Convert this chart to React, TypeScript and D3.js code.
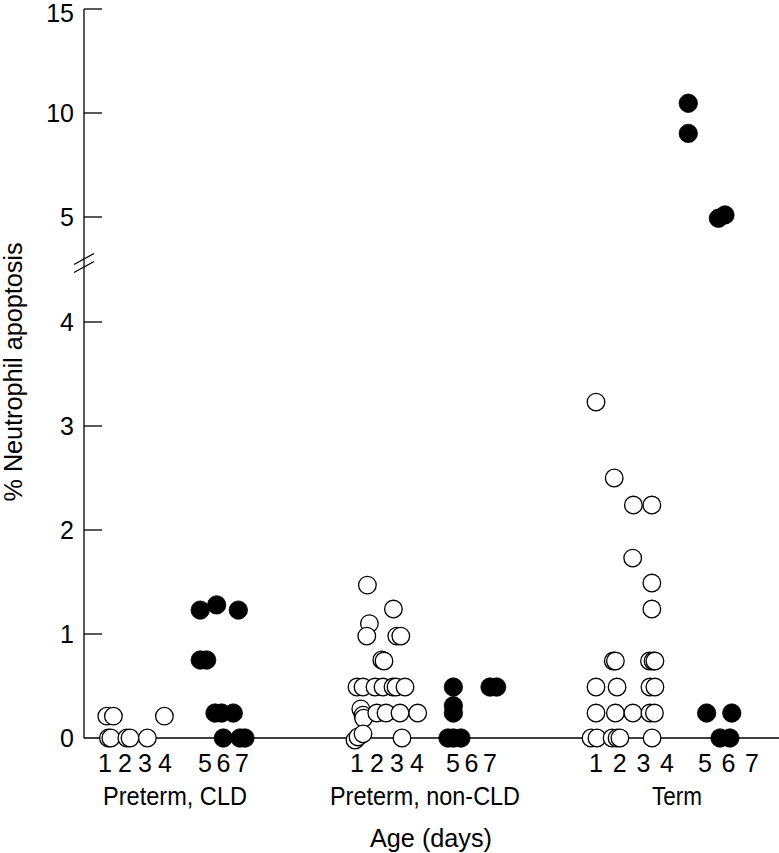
import React from "react";
import * as d3 from "d3";

const W = 779;
const H = 853;

const groupNames = ["Preterm, CLD", "Preterm, non-CLD", "Term"];
const dayLabels = [1, 2, 3, 4, 5, 6, 7];
const lowerTicks = [0, 1, 2, 3, 4];
const upperTicks = [5, 10, 15];
const yAxisTitle = "% Neutrophil apoptosis";
const xAxisTitle = "Age (days)";

// [day position, % apoptosis]
const cldOpen: [number, number][] = [
  [1.17, 0], [1.29, 0], [2.09, 0], [2.25, 0], [3.12, 0],
  [1.09, 0.21], [1.42, 0.21], [3.97, 0.21],
];
const cldFilled: [number, number][] = [
  [4.88, 1.23], [6.8, 1.23], [5.63, 1.28],
  [4.88, 0.75], [5.09, 0.75],
  [5.54, 0.24], [5.9, 0.24], [6.53, 0.24],
  [5.99, 0], [6.89, 0], [7.16, 0],
];
const nonCldOpen: [number, number][] = [
  [1.52, 1.47], [2.82, 1.24], [1.62, 1.1], [1.49, 0.98], [2.99, 0.98], [3.19, 0.98],
  [2.24, 0.75], [2.35, 0.74],
  [1.0, 0.49], [1.3, 0.49], [1.9, 0.49], [2.3, 0.49], [2.8, 0.49], [2.95, 0.49], [3.4, 0.49],
  [1.19, 0.28], [1.3, 0.22], [1.33, 0.19],
  [1.99, 0.24], [2.45, 0.24], [3.15, 0.24], [4.02, 0.24],
  [0.9, -0.02], [1.05, 0.01], [1.3, 0.04], [3.25, 0],
];
const nonCldFilled: [number, number][] = [
  [5.02, 0.49], [5.02, 0.31], [5.02, 0.24],
  [4.86, 0], [5.03, 0], [5.43, 0],
  [7.0, 0.49], [7.36, 0.49],
];
const termOpen: [number, number][] = [
  [1.0, 3.23], [1.77, 2.5], [2.58, 2.24], [3.36, 2.24], [2.55, 1.73],
  [3.36, 1.49], [3.36, 1.24],
  [1.73, 0.74], [1.82, 0.74], [3.26, 0.74], [3.41, 0.74], [3.49, 0.74],
  [1.0, 0.49], [1.89, 0.49], [3.28, 0.49], [3.49, 0.49],
  [1.0, 0.24], [1.82, 0.24], [2.56, 0.24], [3.28, 0.24], [3.47, 0.24],
  [0.79, 0], [1.04, 0], [1.68, 0], [1.89, 0], [2.01, 0], [3.37, 0],
];
const termFilled: [number, number][] = [
  [4.56, 10.47], [4.56, 9.02], [5.57, 4.94], [5.85, 5.1],
  [5.07, 0.24], [6.14, 0.24], [5.64, 0], [6.06, 0],
];

const openSets = [cldOpen, nonCldOpen, termOpen];
const filledSets = [cldFilled, nonCldFilled, termFilled];

// layout
const axisX = 84;
const groupRanges = [
  [105, 165, 205, 242],
  [357, 417, 453, 490],
  [596, 667, 705, 752],
];
const groupCenters = [175, 425, 677];
const groupWidths = [144, 190, 50];
const xScales = groupRanges.map((r) =>
  d3.scaleLinear().domain([1, 4, 5, 7]).range(r)
);
const yLow = d3.scaleLinear().domain([0, 4]).range([738, 322]);
const yHigh = d3.scaleLinear().domain([5, 15]).range([217, 9]);
const yPos = (v: number) => (v <= 4.5 ? yLow(v) : yHigh(v));

const FONT = "'Liberation Sans', Arial, sans-serif";
const R = 8.8;
const FS = 25;

export default function App() {
  const breakY = [259, 267];
  return (
    <svg
      width={W}
      height={H}
      style={{ position: "absolute", left: 0, top: 0, background: "#fff" }}
      fontFamily={FONT}
    >
      <rect x={0} y={0} width={W} height={H} fill="#fff" />
      {/* y axis */}
      <line x1={axisX} x2={axisX} y1={yHigh(15)} y2={yLow(0)} stroke="#000" strokeWidth={1.3} />
      {lowerTicks.filter((t) => t > 0).map((t) => (
        <line key={"lt" + t} x1={axisX} x2={axisX + 18} y1={yLow(t)} y2={yLow(t)} stroke="#000" strokeWidth={1.3} />
      ))}
      {upperTicks.map((t) => (
        <line key={"ut" + t} x1={axisX} x2={axisX + 18} y1={yHigh(t)} y2={yHigh(t)} stroke="#000" strokeWidth={1.3} />
      ))}
      {lowerTicks.map((t) => (
        <text key={"ll" + t} x={axisX - 10} y={yLow(t)} dy="0.36em" textAnchor="end" fontSize={FS}>
          {t}
        </text>
      ))}
      {upperTicks.map((t) => (
        <text key={"ul" + t} x={axisX - 10} y={yHigh(t)} dy={t === 15 ? "0.5em" : "0.36em"} textAnchor="end" fontSize={FS}>
          {t}
        </text>
      ))}
      {/* axis break */}
      {breakY.map((by, i) => (
        <line key={"b" + i} x1={axisX - 10} x2={axisX + 10} y1={by + 5.5} y2={by - 5.5} stroke="#000" strokeWidth={1.3} />
      ))}
      {/* x axis */}
      <line x1={axisX} x2={W} y1={yLow(0)} y2={yLow(0)} stroke="#000" strokeWidth={1.3} />

      {/* points */}
      {openSets.map((set, gi) =>
        set.map(([d, v], i) => (
          <circle key={`o${gi}-${i}`} cx={xScales[gi](d)} cy={yPos(v)} r={R} fill="#fff" stroke="#000" strokeWidth={1.3} />
        ))
      )}
      {filledSets.map((set, gi) =>
        set.map(([d, v], i) => (
          <circle key={`f${gi}-${i}`} cx={xScales[gi](d)} cy={yPos(v)} r={R + 0.4} fill="#000" stroke="#000" strokeWidth={0.8} />
        ))
      )}

      {/* day labels */}
      {xScales.map((xs, gi) =>
        dayLabels.map((d) => (
          <text key={`d${gi}-${d}`} x={xs(d)} y={772} textAnchor="middle" fontSize={FS}>
            {d}
          </text>
        ))
      )}
      {groupNames.map((g, gi) => (
        <text
          key={"g" + gi}
          x={groupCenters[gi]}
          y={805}
          textAnchor="middle"
          fontSize={FS}
          textLength={groupWidths[gi]}
          lengthAdjust="spacingAndGlyphs"
        >
          {g}
        </text>
      ))}
      <text x={431} y={847} textAnchor="middle" fontSize={FS} textLength={122} lengthAdjust="spacingAndGlyphs">
        {xAxisTitle}
      </text>
      <text
        transform={`translate(22, 372) rotate(-90)`}
        textAnchor="middle"
        fontSize={FS}
        textLength={259}
        lengthAdjust="spacingAndGlyphs"
      >
        {yAxisTitle}
      </text>
    </svg>
  );
}
